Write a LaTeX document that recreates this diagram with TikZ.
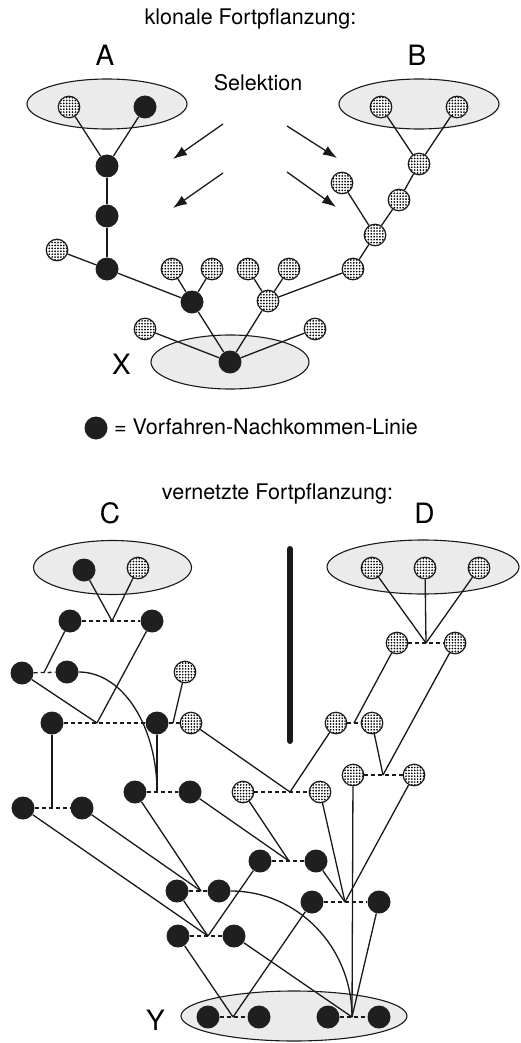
\documentclass[tikz,border=0pt]{standalone}
\usepackage{fontspec}
\setmainfont{TeX Gyre Heros}
\usetikzlibrary{arrows.meta,patterns.meta}
\begin{document}
\begin{tikzpicture}[x=1pt,y=-1pt,
  conn/.style={line width=1.3pt, draw=black!90},
  pairline/.style={conn, dash pattern=on 4pt off 3pt},
  arr/.style={conn, -{Latex[length=14pt,width=10pt]}},
  blk/.style={circle, fill=black!88, minimum size=23pt, inner sep=0pt},
  dt/.style={circle, draw=black!90, line width=1.2pt, minimum size=21.5pt, inner sep=0pt,
    preaction={fill=white}, pattern={Dots[distance=2.9pt,radius=0.95pt]}, pattern color=black},
  popu/.style={draw=black!90, line width=1.1pt, fill=black!8},
  txt/.style={font=\fontsize{21.5}{24}\selectfont, inner sep=0pt, anchor=base},
  lbl/.style={font=\fontsize{28}{30}\selectfont, inner sep=0pt, anchor=base},
  bar/.style={line width=6pt, line cap=round, draw=black!90}]
\useasboundingbox (0,0) rectangle (521,1043);

% ---------- populations ----------
\draw[popu] (107,104) ellipse [x radius=80pt, y radius=25pt];
\draw[popu] (419,104) ellipse [x radius=80pt, y radius=25pt];
\draw[popu] (230,362) ellipse [x radius=79pt, y radius=27pt];
\draw[popu] (112.5,567.5) ellipse [x radius=79pt, y radius=27pt];
\draw[popu] (423,567) ellipse [x radius=96pt, y radius=27pt];
\draw[popu] (294,1016) ellipse [x radius=113pt, y radius=25pt];

% ---------- headings and labels ----------
\node[txt] (h1) at (250.5,25) {klonale Fortpflanzung:};
\node[txt] (sel) at (258,91) {Selektion};
\node[lbl] (lA) at (105,66) {A};
\node[lbl] (lB) at (417,66) {B};
\node[lbl] (lX) at (121.5,374) {X};
\node[txt] (h2) at (277.5,499) {vernetzte Fortpflanzung:};
\node[lbl] (lC) at (110,523) {C};
\node[lbl] (lD) at (424.5,523) {D};
\node[lbl] (lY) at (155.5,1030) {Y};

% legend
\node[blk] (leg) at (96,428) {};
\node[txt, anchor=base west] (legtxt) at (114,434) {= Vorfahren-Nachkommen-Linie};

% ---------- clonal reproduction ----------
\node[dt]  (a1) at (69,107) {};
\node[blk] (a2) at (145,107) {};
\node[blk] (a3) at (107,166) {};
\node[blk] (a4) at (107,216) {};
\node[blk] (a5) at (107,269) {};
\node[dt]  (a6) at (57,250) {};
\node[blk] (a7) at (192,302) {};
\node[dt]  (a8) at (172,269) {};
\node[dt]  (a9) at (212,269) {};

\node[dt] (b1) at (381,107) {};
\node[dt] (b2) at (457,107) {};
\node[dt] (b3) at (419,164) {};
\node[dt] (b4) at (399,200) {};
\node[dt] (b5) at (375,235) {};
\node[dt] (b6) at (342,183) {};
\node[dt] (b7) at (353,269) {};
\node[dt] (b8) at (268,301) {};
\node[dt] (b9) at (248,269) {};
\node[dt] (b10) at (289,269) {};

\node[blk] (x0) at (230,362) {};
\node[dt]  (x1) at (145,329) {};
\node[dt]  (x2) at (315,329) {};

\foreach \u/\v in {a1/a3,a2/a3,a3/a4,a4/a5,a6/a5,a5/a7,a8/a7,a9/a7,a7/x0,
                   b1/b3,b2/b3,b3/b4,b4/b5,b6/b5,b5/b7,b7/b8,b9/b8,b10/b8,b8/x0,
                   x1/x0,x2/x0}
  \draw[conn] (\u) -- (\v);

% selection arrows
\coordinate (s1) at (223,124); \coordinate (s2) at (173,159);
\coordinate (s3) at (223,173); \coordinate (s4) at (173,208);
\coordinate (s5) at (287,126); \coordinate (s6) at (337,158);
\coordinate (s7) at (287,172); \coordinate (s8) at (336,207);
\draw[arr] (s1) -- (s2);
\draw[arr] (s3) -- (s4);
\draw[arr] (s5) -- (s6);
\draw[arr] (s7) -- (s8);

% ---------- networked reproduction ----------
\coordinate (bt) at (290,549);
\coordinate (bb) at (290,741);
\draw[bar] (bt) -- (bb);

\node[blk] (ce1) at (84,570) {};
\node[dt]  (ce2) at (138,568) {};
\node[dt]  (de1) at (372,568) {};
\node[dt]  (de2) at (425,568) {};
\node[dt]  (de3) at (479,568) {};

\node[blk] (c1a) at (70,621) {};
\node[blk] (c1b) at (152,621) {};
\node[dt]  (d1a) at (397,643) {};
\node[dt]  (d1b) at (455,643) {};
\node[blk] (c2a) at (22,673) {};
\node[blk] (c2b) at (67,672) {};
\node[dt]  (e1)  at (185,672) {};
\node[blk] (c3a) at (52,723) {};
\node[blk] (c3b) at (157,723) {};
\node[dt]  (c3c) at (191,723) {};
\node[dt]  (d2a) at (336,723) {};
\node[dt]  (d2b) at (372,723) {};
\node[dt]  (d3a) at (353,775) {};
\node[dt]  (d3b) at (414,775) {};
\node[blk] (c4a) at (135,792) {};
\node[blk] (c4b) at (190,792) {};
\node[dt]  (m1a) at (243,792) {};
\node[dt]  (m1b) at (320,792) {};
\node[blk] (c5a) at (23,808) {};
\node[blk] (c5b) at (82,808) {};
\node[blk] (n1a) at (260,861) {};
\node[blk] (n1b) at (316,861) {};
\node[blk] (n2a) at (177,891) {};
\node[blk] (n2b) at (219,891) {};
\node[blk] (n4a) at (312,902) {};
\node[blk] (n4b) at (379,902) {};
\node[blk] (n3a) at (178,936) {};
\node[blk] (n3b) at (234,936) {};
\node[blk] (y1) at (208,1017) {};
\node[blk] (y2) at (259,1017) {};
\node[blk] (y3) at (328,1017) {};
\node[blk] (y4) at (379,1017) {};

% junction points on the pair lines
\coordinate (jC0) at (112,621);
\coordinate (jD0) at (426,643);
\coordinate (j2)  at (44,672.5);
\coordinate (j3)  at (97,723);
\coordinate (j4)  at (173,723);
\coordinate (j5)  at (157,792);
\coordinate (j6)  at (52,808);
\coordinate (j7)  at (354,723);
\coordinate (j8)  at (383,775);
\coordinate (j9)  at (290,792);
\coordinate (j10) at (289,861);
\coordinate (j11) at (201,891);
\coordinate (j12) at (208,936);
\coordinate (j13) at (345,902);
\coordinate (jY1) at (233,1017);
\coordinate (jY2) at (352,1017);

% pairs
\foreach \u/\v in {c1a/c1b,d1a/d1b,c2a/c2b,c3a/c3b,c3b/c3c,d2a/d2b,d3a/d3b,
                   c4a/c4b,m1a/m1b,c5a/c5b,n1a/n1b,n2a/n2b,n4a/n4b,n3a/n3b,
                   y1/y2,y3/y4}
  \draw[pairline] (\u) -- (\v);

% descent lines
\foreach \u/\v in {ce1/jC0,ce2/jC0,de1/jD0,de2/jD0,de3/jD0,
                   c1a/j2,c2a/j3,c1b/j3,e1/j4,c3b/j5,c3a/j6,
                   d1a/j7,d2b/j8,d1b/j8,c3c/j9,d2a/j9,
                   c4b/j10,m1a/j10,c5b/j11,c4a/j11,
                   c5a/j12,n2a/j12,n1a/j12,
                   n1b/j13,m1b/j13,d3b/j13,
                   n3a/jY1,n4a/jY1,
                   n3b/jY2,d3a/jY2,n4b/jY2}
  \draw[conn] (\u) -- (\v);

\draw[conn] (c2b.east) .. controls +(44,0) and +(0,-66) .. (j5);
\draw[conn] (n2b.east) .. controls +(67,0) and +(0,-70) .. (jY2);
\end{tikzpicture}
\end{document}
